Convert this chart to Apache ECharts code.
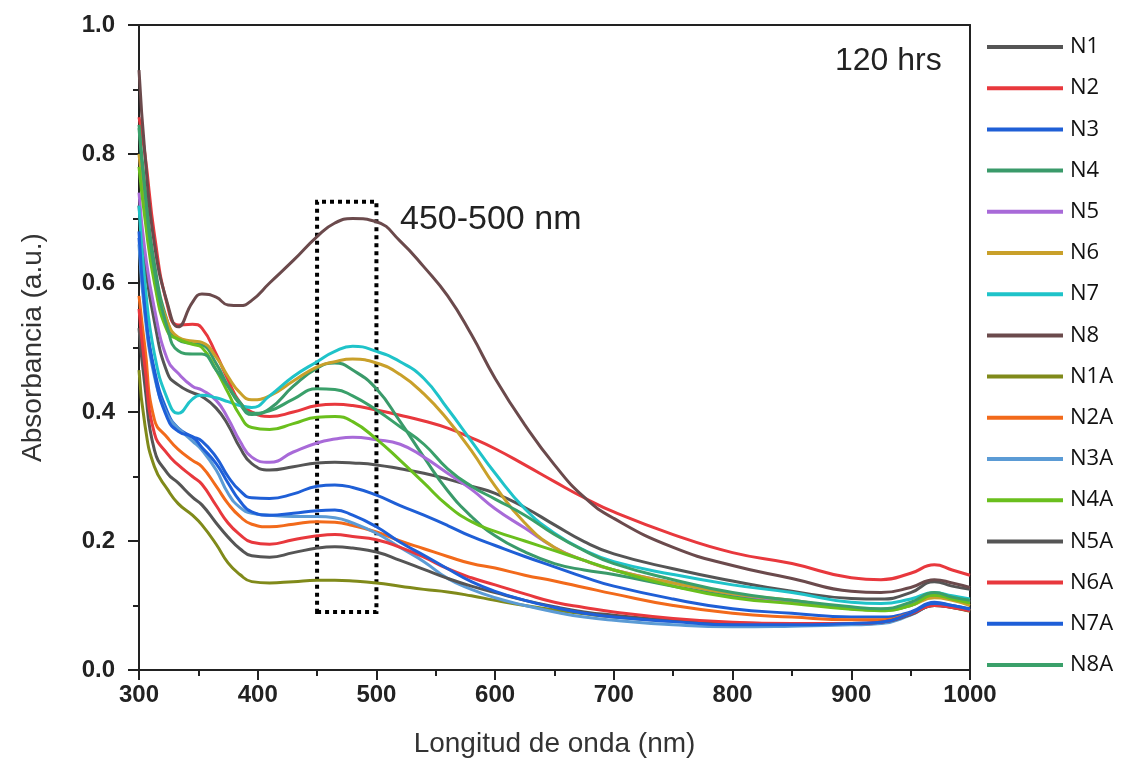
<!DOCTYPE html>
<html>
<head>
<meta charset="utf-8">
<script src="https://cdn.jsdelivr.net/npm/echarts@6/dist/echarts.min.js"></script>
<style>html,body{margin:0;padding:0;background:#fff}#c{width:1124px;height:772px}</style>
</head>
<body>
<div id="c"></div>
<script>
// wavelength grid (nm)
const wavelengths = [300,305,313,324,333,345,353,365,375,385,395,410,430,450,465,480,500,520,540,560,580,600,625,650,675,700,750,800,850,900,925,950,970,985,1000];

const N1  = [0.72,0.63,0.54,0.46,0.442,0.43,0.424,0.406,0.38,0.345,0.32,0.31,0.315,0.321,0.322,0.321,0.318,0.312,0.305,0.296,0.285,0.274,0.252,0.225,0.199,0.18,0.157,0.138,0.122,0.111,0.11,0.12,0.137,0.13,0.125];
const N2  = [0.857,0.80,0.675,0.565,0.535,0.536,0.53,0.49,0.45,0.415,0.40,0.393,0.40,0.41,0.412,0.41,0.403,0.395,0.386,0.375,0.36,0.343,0.318,0.292,0.267,0.245,0.21,0.182,0.165,0.143,0.14,0.15,0.163,0.155,0.147];
const N3  = [0.67,0.56,0.465,0.40,0.375,0.362,0.355,0.33,0.30,0.278,0.267,0.266,0.273,0.285,0.287,0.283,0.271,0.255,0.24,0.224,0.207,0.193,0.176,0.16,0.144,0.13,0.11,0.095,0.088,0.082,0.082,0.09,0.105,0.10,0.095];
const N4  = [0.845,0.75,0.63,0.54,0.512,0.506,0.504,0.475,0.44,0.412,0.396,0.405,0.44,0.468,0.476,0.465,0.436,0.385,0.33,0.278,0.238,0.208,0.183,0.165,0.155,0.148,0.13,0.115,0.105,0.095,0.093,0.10,0.115,0.11,0.105];
const N5  = [0.74,0.65,0.56,0.481,0.46,0.44,0.434,0.418,0.39,0.355,0.33,0.322,0.338,0.352,0.358,0.361,0.357,0.35,0.33,0.305,0.28,0.25,0.22,0.19,0.17,0.155,0.135,0.118,0.106,0.096,0.094,0.102,0.117,0.112,0.106];
const N6  = [0.80,0.72,0.61,0.54,0.516,0.51,0.508,0.485,0.455,0.43,0.419,0.425,0.448,0.47,0.478,0.482,0.476,0.458,0.428,0.388,0.34,0.285,0.228,0.19,0.17,0.155,0.135,0.118,0.108,0.095,0.093,0.10,0.112,0.108,0.10];
const N7  = [0.72,0.60,0.49,0.42,0.398,0.42,0.426,0.422,0.416,0.41,0.407,0.425,0.455,0.478,0.494,0.502,0.494,0.478,0.452,0.405,0.355,0.305,0.25,0.212,0.186,0.168,0.148,0.132,0.12,0.105,0.103,0.11,0.12,0.115,0.11];
const N8  = [0.93,0.80,0.66,0.568,0.532,0.57,0.583,0.578,0.566,0.565,0.573,0.60,0.635,0.672,0.693,0.70,0.695,0.665,0.625,0.58,0.52,0.452,0.38,0.318,0.268,0.235,0.19,0.162,0.142,0.122,0.12,0.128,0.14,0.135,0.128];
const N1A = [0.465,0.38,0.315,0.28,0.258,0.24,0.225,0.195,0.166,0.148,0.137,0.135,0.137,0.139,0.139,0.138,0.135,0.13,0.125,0.121,0.115,0.108,0.10,0.093,0.087,0.082,0.076,0.072,0.07,0.071,0.073,0.086,0.10,0.097,0.091];
const N2A = [0.58,0.50,0.388,0.36,0.342,0.325,0.315,0.285,0.258,0.238,0.226,0.222,0.226,0.23,0.229,0.224,0.214,0.20,0.188,0.176,0.165,0.158,0.147,0.138,0.128,0.118,0.10,0.088,0.082,0.078,0.078,0.088,0.102,0.098,0.092];
const N3A = [0.66,0.55,0.455,0.395,0.375,0.355,0.341,0.31,0.274,0.252,0.243,0.24,0.238,0.238,0.236,0.228,0.212,0.19,0.168,0.142,0.125,0.112,0.10,0.09,0.082,0.077,0.07,0.067,0.068,0.07,0.072,0.085,0.10,0.098,0.092];
const N4A = [0.78,0.70,0.60,0.525,0.513,0.505,0.50,0.465,0.43,0.395,0.376,0.373,0.382,0.392,0.393,0.385,0.358,0.325,0.29,0.255,0.23,0.215,0.20,0.185,0.17,0.155,0.13,0.112,0.103,0.094,0.092,0.10,0.116,0.11,0.104];
const N5A = [0.53,0.44,0.341,0.305,0.29,0.268,0.256,0.228,0.206,0.188,0.177,0.175,0.182,0.189,0.191,0.189,0.183,0.17,0.156,0.142,0.13,0.12,0.108,0.098,0.09,0.085,0.077,0.073,0.072,0.072,0.074,0.086,0.10,0.097,0.092];
const N6A = [0.56,0.47,0.367,0.335,0.318,0.30,0.288,0.255,0.228,0.21,0.198,0.195,0.202,0.208,0.21,0.207,0.202,0.19,0.175,0.157,0.143,0.132,0.118,0.105,0.097,0.09,0.08,0.074,0.072,0.072,0.074,0.087,0.10,0.097,0.092];
const N7A = [0.68,0.56,0.46,0.39,0.37,0.361,0.345,0.32,0.29,0.262,0.245,0.24,0.243,0.247,0.248,0.24,0.222,0.198,0.178,0.157,0.137,0.122,0.108,0.097,0.088,0.082,0.075,0.07,0.07,0.072,0.074,0.088,0.103,0.10,0.094];
const N8A = [0.84,0.74,0.62,0.53,0.495,0.49,0.49,0.465,0.44,0.415,0.398,0.402,0.42,0.436,0.435,0.425,0.403,0.377,0.35,0.312,0.285,0.265,0.24,0.21,0.185,0.165,0.14,0.12,0.108,0.098,0.095,0.105,0.12,0.113,0.108];

const seriesNames = ['N1','N2','N3','N4','N5','N6','N7','N8','N1A','N2A','N3A','N4A','N5A','N6A','N7A','N8A'];
const seriesValues = [N1,N2,N3,N4,N5,N6,N7,N8,N1A,N2A,N3A,N4A,N5A,N6A,N7A,N8A];
const seriesColors = ['#555555','#e8383d','#1f5fd6','#3a9a6a','#a86ad8','#c9a02a','#1fc3c9','#6b4a4c','#808a1a','#f26a1b','#5b9bd5','#6abf1d','#555555','#e8383d','#1e5fd8','#3aa06a'];

const xTicks = {min:300, max:1000, interval:100};
const yTicks = {min:0, max:1, interval:0.2};

const chart = echarts.init(document.getElementById('c'));

const series = seriesNames.map((name, k) => ({
  name: name,
  type: 'line',
  data: wavelengths.map((w, i) => [w, seriesValues[k][i]]),
  smooth: 0.5,
  showSymbol: false,
  symbol: 'none',
  lineStyle: {width: 3, color: seriesColors[k]},
  itemStyle: {color: seriesColors[k]},
  z: 2
}));

// dotted box 450-500 nm
series[0].markArea = {
  silent: true,
  itemStyle: {color: 'rgba(0,0,0,0)', borderColor: '#000', borderWidth: 4, borderType: [4, 4]},
  data: [[{coord: [450, 0.09]}, {coord: [500, 0.726]}]]
};

const axisFont = 'Liberation Sans, Arial, sans-serif';

chart.setOption({
  animation: false,
  backgroundColor: '#fff',
  grid: {left: 139, right: 154, top: 25, bottom: 102, containLabel: false},
  legend: {
    orient: 'vertical',
    left: 982,
    top: 31,
    itemWidth: 76,
    itemHeight: 24,
    itemGap: 19.2,
    icon: 'path://M0,0 L76,0 L76,4 L0,4 Z',
    data: seriesNames.map((n, k) => ({name: n, itemStyle: {color: seriesColors[k]}})),
    textStyle: {fontFamily: 'Open Sans, sans-serif', fontSize: 22, color: '#111', padding: [0, 0, 0, 2]},
    selectedMode: false
  },
  xAxis: [{
    type: 'value', min: xTicks.min, max: xTicks.max, interval: xTicks.interval,
    name: 'Longitud de onda (nm)', nameLocation: 'middle', nameGap: 60,
    nameTextStyle: {fontFamily: axisFont, fontSize: 28, color: '#333'},
    axisLine: {show: true, lineStyle: {color: '#222', width: 2}},
    axisTick: {show: true, inside: false, length: 10, lineStyle: {width: 2, color: '#222'}},
    minorTick: {show: true, splitNumber: 2, length: 6, lineStyle: {width: 2, color: '#222'}},
    axisLabel: {fontFamily: axisFont, fontSize: 24, fontWeight: 'bold', color: '#222', margin: 13,
      formatter: v => String(v)},
    splitLine: {show: false}
  }, {
    type: 'value', position: 'top', min: xTicks.min, max: xTicks.max,
    axisLine: {show: true, onZero: false, lineStyle: {color: '#222', width: 2}},
    axisTick: {show: false}, axisLabel: {show: false}, splitLine: {show: false}
  }],
  yAxis: [{
    type: 'value', min: yTicks.min, max: yTicks.max, interval: yTicks.interval,
    name: 'Absorbancia (a.u.)', nameLocation: 'middle', nameGap: 92,
    nameTextStyle: {fontFamily: axisFont, fontSize: 28, color: '#333'},
    axisLine: {show: true, lineStyle: {color: '#222', width: 2}},
    axisTick: {show: true, inside: false, length: 11, lineStyle: {width: 2, color: '#222'}},
    minorTick: {show: true, splitNumber: 2, length: 6, lineStyle: {width: 2, color: '#222'}},
    axisLabel: {fontFamily: axisFont, fontSize: 24, fontWeight: 'bold', color: '#222', margin: 24,
      formatter: v => v.toFixed(1)},
    splitLine: {show: false}
  }, {
    type: 'value', position: 'right', min: yTicks.min, max: yTicks.max,
    axisLine: {show: true, onZero: false, lineStyle: {color: '#222', width: 2}},
    axisTick: {show: false}, axisLabel: {show: false}, splitLine: {show: false}
  }],
  graphic: [
    {type: 'text', left: 835, top: 45, style: {text: '120 hrs', font: '32px Liberation Sans, Arial, sans-serif', fill: '#222'}},
    {type: 'text', left: 400, top: 203, style: {text: '450-500 nm', font: '34px Liberation Sans, Arial, sans-serif', fill: '#222'}}
  ],
  series: series
});
</script>
</body>
</html>
